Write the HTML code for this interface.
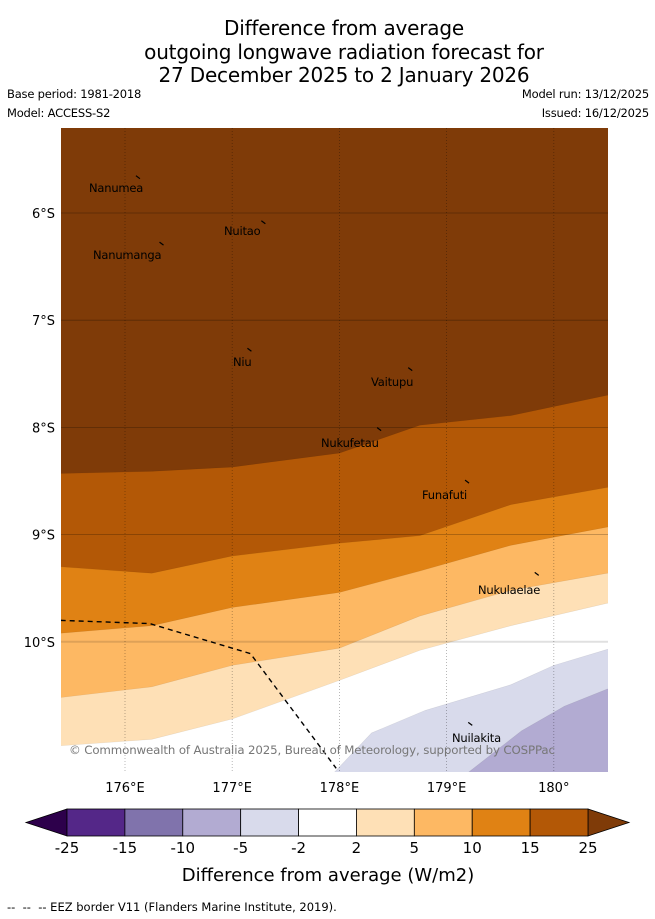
<!DOCTYPE html>
<html><head><meta charset="utf-8">
<style>
body{margin:0;background:#fff;font-family:"DejaVu Sans","Liberation Sans",sans-serif;}
#wrap{position:relative;width:655px;height:919px;overflow:hidden;}
.t{position:absolute;white-space:nowrap;}
</style></head><body>
<div id="wrap">
<div class="t" style="left:0;width:688px;top:17px;text-align:center;font-size:20px;line-height:23.5px;letter-spacing:-0.2px;">Difference from average<br>outgoing longwave radiation forecast for<br>27 December 2025 to 2 January 2026</div>
<div class="t" style="left:7px;top:87px;font-size:11.5px;letter-spacing:-0.2px;">Base period: 1981-2018</div>
<div class="t" style="left:7px;top:106px;font-size:11.5px;letter-spacing:-0.2px;">Model: ACCESS-S2</div>
<div class="t" style="right:6px;top:87px;font-size:11.5px;letter-spacing:-0.2px;">Model run: 13/12/2025</div>
<div class="t" style="right:6px;top:106px;font-size:11.5px;letter-spacing:-0.2px;">Issued: 16/12/2025</div>
<svg id="map" width="655" height="919" style="position:absolute;left:0;top:0"></svg>
<div class="t" style="left:7px;top:900px;font-size:11.5px;">-- &nbsp;-- &nbsp;-- EEZ border V11 (Flanders Marine Institute, 2019).</div>
</div>
<script>
const lons=[175.4,176.25,177,178,178.75,179.6,180.5];
const b25=[8.43,8.41,8.37,8.24,7.98,7.89,7.70];
const b15=[9.30,9.36,9.20,9.08,9.01,8.72,8.56];
const b10=[9.92,9.85,9.68,9.54,9.34,9.10,8.93];
const b5=[10.52,10.42,10.22,10.06,9.76,9.52,9.36];
const b2=[10.97,10.91,10.72,10.36,10.08,9.85,9.64];
const lonsN2=[177.95,178.3,178.8,179.6,180.0,180.5];
const bN2=[11.22,10.85,10.64,10.40,10.22,10.07];
const lonsN5=[179.2,179.7,180.1,180.5];
const bN5=[11.22,10.83,10.60,10.44];
const lonTicks=[176,177,178,179,180];
const lonLabels=["176°E","177°E","178°E","179°E","180°"];
const latTicks=[6,7,8,9,10];
const latLabels=["6°S","7°S","8°S","9°S","10°S"];
const eezLon=[175.4,176.23,177.17,177.97];
const eezLat=[9.80,9.83,10.11,11.18];
const islands=[["Nanumea",176.13,5.68,89,188],["Nuitao",177.3,6.1,224,231],["Nanumanga",176.35,6.3,93,255],["Niu",177.17,7.29,233,362],["Vaitupu",178.67,7.47,371,382],["Nukufetau",178.38,8.03,321,443],["Funafuti",179.2,8.52,422,495],["Nukulaelae",179.85,9.38,478,590],["Nuilakita",179.23,10.78,452,738]];
const cbBounds=["-25","-15","-10","-5","-2","2","5","10","15","25"];
const cbColors=["#542788","#8073ac","#b2abd2","#d8daeb","#ffffff","#fee0b6","#fdb863","#e08214","#b35806"];

const X0=61,X1=608,Y0=128,Y1=772;
const xs=lon=>125+(lon-176)*107.2;
const ys=lat=>213+(lat-6)*107.2;
const NS='http://www.w3.org/2000/svg';
const svg=document.getElementById('map');
function mk(t,a,p){const e=document.createElementNS(NS,t);for(const k in a)e.setAttribute(k,a[k]);(p||svg).appendChild(e);return e;}
const defs=mk('defs',{});const cp=mk('clipPath',{id:'c'},defs);mk('rect',{x:X0,y:Y0,width:X1-X0,height:Y1-Y0},cp);
const g=mk('g',{'clip-path':'url(#c)'});
const bg=mk('rect',{x:X0,y:Y0,width:X1-X0,height:Y1-Y0,fill:'#7f3b08'},g);


function band(L,B,col,name,right){
  let pts=L.map((l,i)=>xs(l)+','+ys(B[i]));
  pts.push((X1+20)+','+ys(B[B.length-1]));
  if(right){pts.push((X1+20)+','+(Y1+5));pts.push(xs(L[0])+','+(Y1+5));}
  else{pts.push((X1+20)+','+(Y1+5));pts.push((X0-5)+','+(Y1+5));}
  const p=mk('polygon',{points:pts.join(' '),fill:col,stroke:'rgba(0,0,0,0.08)','stroke-width':0.6},g);
  
  
}
band(lons,b25,'#b35806','region-15-25');
band(lons,b15,'#e08214','region-10-15');
band(lons,b10,'#fdb863','region-5-10');
band(lons,b5,'#fee0b6','region-2-5');
band(lons,b2,'#ffffff','region-neutral');
band(lonsN2,bN2,'#d8daeb','region-minus2-5',true);
band(lonsN5,bN5,'#b2abd2','region-minus5-10',true);
lonTicks.forEach((l,i)=>{
  const ln=mk('line',{x1:xs(l),x2:xs(l),y1:Y0,y2:Y1,stroke:'rgba(0,0,0,0.35)','stroke-width':0.8,'stroke-dasharray':'1,2'},g);
  
  
  const t=mk('text',{x:xs(l),y:Y1+20,'text-anchor':'middle','font-size':13,fill:'#000'});
  t.textContent=lonLabels[i];
  
  
});
latTicks.forEach((l,i)=>{
  const last=i===latTicks.length-1;
  const ln=mk('line',{x1:X0,x2:X1,y1:ys(l),y2:ys(l),stroke:last?'rgba(0,0,0,0.12)':'rgba(0,0,0,0.3)','stroke-width':last?2:0.8},g);
  
  
  const t=mk('text',{x:55,y:ys(l)+5,'text-anchor':'end','font-size':13,fill:'#000'});
  t.textContent=latLabels[i];
  
  
});
const eez=mk('polyline',{points:eezLon.map((l,i)=>xs(l)+','+ys(eezLat[i])).join(' '),fill:'none',stroke:'#000','stroke-width':1.4,'stroke-dasharray':'5,4'},g);


islands.forEach(d=>{
  const m=mk('path',{d:`M${xs(d[1])-3},${ys(d[2])-3} l4,3`,stroke:'#000','stroke-width':1.2,fill:'none'},g);
  
  
  const t=mk('text',{x:d[3],y:d[4]+4,'font-size':11.5,fill:'#000','letter-spacing':'-0.2'},g);
  t.textContent=d[0];
  
  
});
const cr=mk('text',{x:69,y:754,'font-size':11.8,fill:'#777',textLength:486},g);
cr.textContent='© Commonwealth of Australia 2025, Bureau of Meteorology, supported by COSPPac';


const cx0=67,cx1=588,cy0=809,cy1=836,cw=(cx1-cx0)/cbColors.length;
const lt=mk('polygon',{points:`${cx0},${cy0} 26,${(cy0+cy1)/2} ${cx0},${cy1}`,fill:'#2d004b',stroke:'#000','stroke-width':0.8});


const rt=mk('polygon',{points:`${cx1},${cy0} 629,${(cy0+cy1)/2} ${cx1},${cy1}`,fill:'#7f3b08',stroke:'#000','stroke-width':0.8});


cbColors.forEach((c,i)=>{
  const r=mk('rect',{x:cx0+i*cw,y:cy0,width:cw,height:cy1-cy0,fill:c,stroke:'#000','stroke-width':0.8});
  
  
});
cbBounds.forEach((b,i)=>{
  const t=mk('text',{x:cx0+i*cw,y:853,'text-anchor':'middle','font-size':15,fill:'#000'});
  t.textContent=b;
  
  
});
const ct=mk('text',{x:328,y:881,'text-anchor':'middle','font-size':18,fill:'#000'});
ct.textContent='Difference from average (W/m2)';


</script>
</body></html>
